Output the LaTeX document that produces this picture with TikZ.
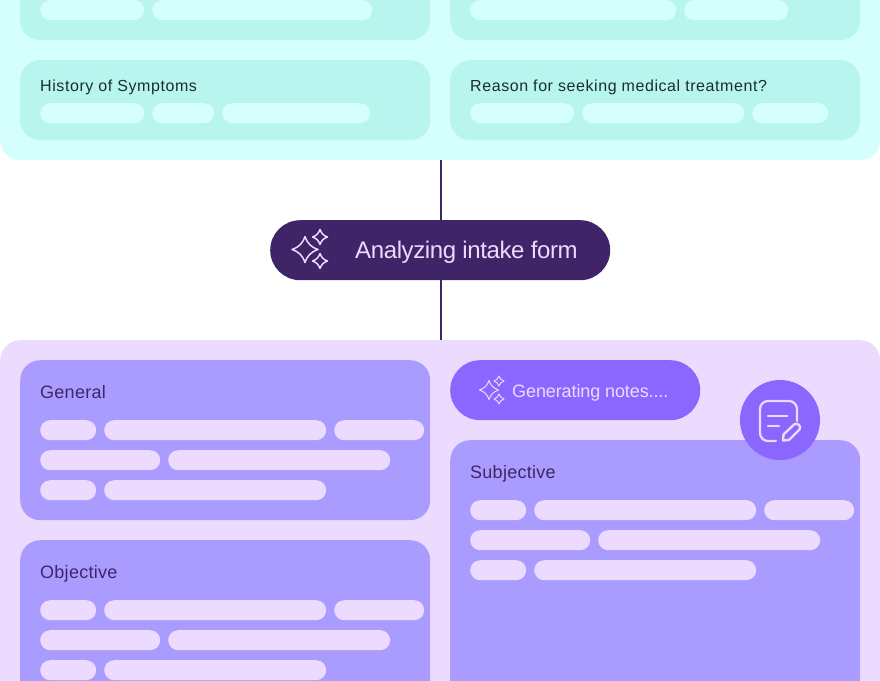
\documentclass[tikz,border=0pt]{standalone}
\usepackage{fontspec}
\setmainfont{Liberation Sans}
\newfontfamily\tealfont[LetterSpace=3.6]{Liberation Sans}
\newfontfamily\cardfont[LetterSpace=1.5]{Liberation Sans}
\newfontfamily\mainpillfont[LetterSpace=-1.6]{Liberation Sans}
\newfontfamily\notepillfont[LetterSpace=-0.6]{Liberation Sans}
\usetikzlibrary{positioning, calc}
\definecolor{tealPanel}{HTML}{D4FFFC}
\definecolor{tealCard}{HTML}{B8F5EE}
\definecolor{lilacPanel}{HTML}{EDDBFF}
\definecolor{lilacCard}{HTML}{AA9CFF}
\definecolor{violetPill}{HTML}{8B66FF}
\definecolor{darkPlum}{HTML}{3F2568}
\definecolor{tealInk}{HTML}{17302F}
\tikzset{
	block/.style={
		rounded corners=#1,
		inner sep=0pt,
		anchor=north west
	},
	block/.default=20pt,
	pill/.style={
		block=10pt,
		minimum height=20pt
	},
	title/.style={
		anchor=base west,
		inner sep=0pt
	},
	link/.style={
		darkPlum,
		line width=2pt
	},
	pics/sparkle/.style={
		code={
			\draw[pic actions, x=#1pt, y=#1pt, line join=round] (0,-1) .. controls (0.2,-0.45) and (0.45,-0.2) .. (1,0)
				.. controls (0.45,0.2) and (0.2,0.45) .. (0,1)
				.. controls (-0.2,0.45) and (-0.45,0.2) .. (-1,0)
				.. controls (-0.45,-0.2) and (-0.2,-0.45) .. (0,-1) -- cycle;
		}
	}
}
\begin{document}
\begin{tikzpicture}[x=1pt, y=-1pt]
	\useasboundingbox (0,0) rectangle (880,680);
	\clip (0,0) rectangle (880,680);

	%--- Top panel ---
	\node[block, fill=tealPanel, minimum width=880pt, minimum height=200pt] (intake) at (0,-40) {};
	\node[block, fill=tealCard, minimum width=410pt, minimum height=80pt] (cardA) at (20,-40) {};
	\node[block, fill=tealCard, minimum width=410pt, minimum height=80pt] (cardB) at (450,-40) {};
	\node[block, fill=tealCard, minimum width=410pt, minimum height=80pt] (history) at (20,60) {};
	\node[block, fill=tealCard, minimum width=410pt, minimum height=80pt] (reason) at (450,60) {};
	\node[title, text=tealInk, font=\tealfont\fontsize{16}{16}\selectfont] (historyT) at (40,91) {History of Symptoms};
	\node[title, text=tealInk, font=\tealfont\fontsize{16}{16}\selectfont] (reasonT) at (470,91) {Reason for seeking medical treatment?};

	% Bars of the top panel
	\foreach \px/\py/\pw in {40/0/104, 152/0/220, 470/0/206, 684/0/104,
			40/103/104, 152/103/62, 222/103/148, 470/103/104, 582/103/162, 752/103/76}
		\node[pill, fill=tealPanel, minimum width=\pw pt] (bar\px-\py) at (\px,\py) {};

	%--- Bottom panel ---
	\node[block, fill=lilacPanel, minimum width=880pt, minimum height=380pt] (notes) at (0,340) {};
	\node[block, fill=lilacCard, minimum width=410pt, minimum height=160pt] (general) at (20,360) {};
	\node[block, fill=lilacCard, minimum width=410pt, minimum height=180pt] (objective) at (20,540) {};
	\node[block, fill=lilacCard, minimum width=410pt, minimum height=280pt] (subjective) at (450,440) {};
	\node[title, text=darkPlum, font=\cardfont\fontsize{18}{18}\selectfont] (generalT) at (40,398) {General};
	\node[title, text=darkPlum, font=\cardfont\fontsize{18}{18}\selectfont] (objectiveT) at (40,578) {Objective};
	\node[title, text=darkPlum, font=\cardfont\fontsize{18}{18}\selectfont] (subjectiveT) at (470,478) {Subjective};

	% Bars of the three cards
	\foreach \ox/\oy/\oname in {0/0/g, 0/180/o, 430/80/s}
		\foreach \px/\py/\pw in {40/420/56, 104/420/222, 334/420/90,
				40/450/120, 168/450/222, 40/480/56, 104/480/222}
			\node[pill, fill=lilacPanel, minimum width=\pw pt] (\oname\px-\py) at (\px+\ox,\py+\oy) {};

	%--- Analyzing pill and links ---
	\node[block=30pt, fill=darkPlum, minimum width=340pt, minimum height=60pt] (analyze) at (270,220) {};
	\node[title, text=lilacPanel, font=\mainpillfont\fontsize{24}{24}\selectfont] (analyzeT) at (355,258) {Analyzing intake form};
	\draw[link] ([xshift=1pt]intake.south) -- ([xshift=1pt]analyze.north);
	\draw[link] ([xshift=1pt]analyze.south) -- ([xshift=1pt]notes.north);
	\pic[draw=lilacPanel, line width=1.5pt] at (305,249.5) {sparkle=13};
	\pic[draw=lilacPanel, line width=1.5pt] at (320,237) {sparkle=7.5};
	\pic[draw=lilacPanel, line width=1.5pt] at (320,261) {sparkle=7.5};

	%--- Generating pill ---
	\node[block=30pt, fill=violetPill, minimum width=250pt, minimum height=60pt] (generating) at (450,360) {};
	\node[title, text=lilacPanel, font=\notepillfont\fontsize{18}{18}\selectfont] (generatingT) at (512,397) {Generating notes....};
	\pic[draw=lilacPanel, line width=1pt] at (489,390) {sparkle=9.5};
	\pic[draw=lilacPanel, line width=1pt] at (499,381) {sparkle=5};
	\pic[draw=lilacPanel, line width=1pt] at (499,399) {sparkle=5};

	%--- Note icon ---
	\node[circle, fill=violetPill, minimum size=80pt, inner sep=0pt] (noteBadge) at (780,420) {};
	\draw[lilacPanel, line width=2.2pt, line cap=round, line join=round, rounded corners=8pt]
		(797,421) -- (797,401) -- (760,401) -- (760,441) -- (776,441);
	\draw[lilacPanel, line width=2.2pt, line cap=round] (768,416) -- (787,416);
	\draw[lilacPanel, line width=2.2pt, line cap=round] (768,426) -- (779,426);
	\draw[lilacPanel, line width=2.4pt, line join=round]
		(783,440.5) -- (783.5,434.5) -- (794,424.5) .. controls (797,422) and (802,426) .. (799.5,429.5) -- (789,440) -- cycle;
\end{tikzpicture}
\end{document}
